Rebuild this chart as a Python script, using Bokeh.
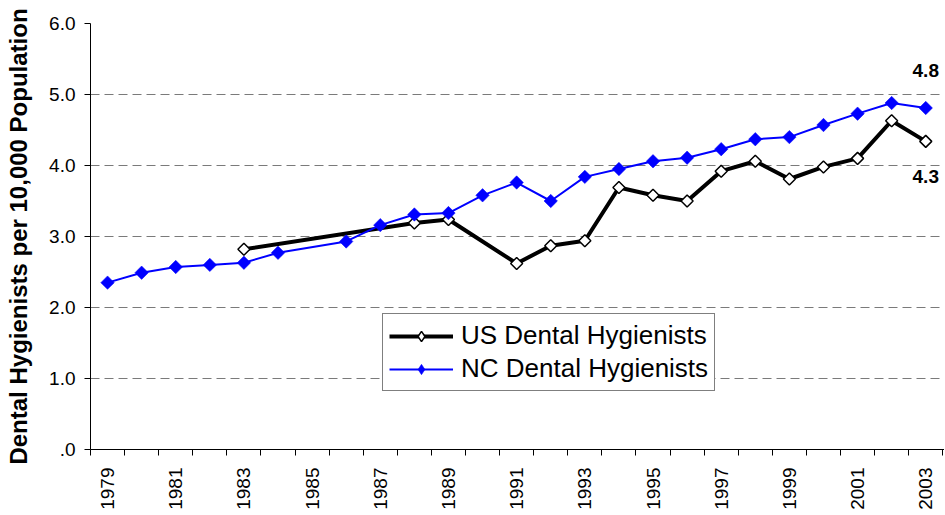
import math
from bokeh.plotting import figure
from bokeh.models import Range1d, FixedTicker, Legend, LegendItem
from bokeh.core.properties import value
from bokeh.embed import file_html
from bokeh.resources import INLINE

# ---- data ----
us_years = [1983, 1988, 1989, 1991, 1992, 1993, 1994, 1995, 1996, 1997,
            1998, 1999, 2000, 2001, 2002, 2003]
us_values = [2.82, 3.19, 3.24, 2.62, 2.87, 2.94, 3.69, 3.58, 3.50, 3.92,
             4.06, 3.81, 3.98, 4.10, 4.63, 4.34]

nc_years = [1979, 1980, 1981, 1982, 1983, 1984, 1986, 1987, 1988, 1989,
            1990, 1991, 1992, 1993, 1994, 1995, 1996, 1997, 1998, 1999,
            2000, 2001, 2002, 2003]
nc_values = [2.35, 2.49, 2.57, 2.60, 2.63, 2.77, 2.93, 3.16, 3.31, 3.33,
             3.58, 3.76, 3.50, 3.84, 3.95, 4.06, 4.11, 4.23, 4.37, 4.40,
             4.57, 4.73, 4.88, 4.81]

all_years = list(range(1979, 2004))
x_tick_years = [1979, 1981, 1983, 1985, 1987, 1989, 1991, 1993, 1995,
                1997, 1999, 2001, 2003]
x_tick_labels = [str(y) for y in x_tick_years]
y_ticks = [0, 1, 2, 3, 4, 5, 6]
y_tick_labels = [".0", "1.0", "2.0", "3.0", "4.0", "5.0", "6.0"]

series_names = ["US Dental Hygienists", "NC Dental Hygienists"]
y_title = "Dental Hygienists per 10,000 Population"

FONT = "Liberation Sans"

p = figure(width=944, height=514, output_backend="svg", toolbar_location=None,
           x_range=Range1d(all_years[0] - 0.5, all_years[-1] + 0.55),
           y_range=Range1d(0, 6),
           min_border_left=90, min_border_right=0, min_border_top=23,
           min_border_bottom=65)
p.outline_line_color = None
p.background_fill_color = "white"
p.border_fill_color = "white"

# x axis (category style: labels at centres, ticks at boundaries)
xt = FixedTicker(ticks=x_tick_years,
                 minor_ticks=[y - 0.5 for y in all_years] + [all_years[-1] + 0.5])
p.xaxis.ticker = xt
p.xaxis.major_label_overrides = {y: l for y, l in zip(x_tick_years, x_tick_labels)}
p.xaxis.major_tick_out = 0
p.xaxis.major_tick_in = 0
p.xaxis.minor_tick_out = 6
p.xaxis.minor_tick_in = 0
p.xaxis.minor_tick_line_color = "black"
p.xaxis.major_label_orientation = math.pi / 2
p.xaxis.major_label_standoff = 12
p.xaxis.major_label_text_font = FONT
p.xaxis.major_label_text_font_size = "19px"
p.xaxis.major_label_text_color = "black"
p.xaxis.axis_line_color = "black"
p.xgrid.visible = False

# y axis
p.yaxis.ticker = FixedTicker(ticks=y_ticks, minor_ticks=[])
p.yaxis.major_label_overrides = {t: l for t, l in zip(y_ticks, y_tick_labels)}
p.yaxis.major_tick_out = 6
p.yaxis.major_tick_in = 0
p.yaxis.major_tick_line_color = "black"
p.yaxis.major_label_standoff = 9
p.yaxis.major_label_text_font = FONT
p.yaxis.major_label_text_font_size = "19px"
p.yaxis.major_label_text_color = "black"
p.yaxis.axis_line_color = "black"
p.yaxis.axis_label = y_title
p.yaxis.axis_label_text_font = FONT
p.yaxis.axis_label_text_font_style = "bold"
p.yaxis.axis_label_text_font_size = "24px"
p.yaxis.axis_label_text_color = "black"
p.yaxis.axis_label_standoff = 14
p.ygrid.grid_line_color = "#7a7a7a"
p.ygrid.grid_line_dash = "9 5"
p.ygrid.grid_line_width = 1.2

# US series
us_line = p.line(us_years, us_values, line_color="black", line_width=4)
p.scatter(us_years, us_values, marker="square", angle=math.pi / 4, size=8.5,
          fill_color="white", line_color="black", line_width=1.5)
us_leg = p.scatter(us_years, us_values, marker="diamond", size=13,
                   fill_color="white", line_color="black", line_width=1.5,
                   visible=False)

# NC series
nc_line = p.line(nc_years, nc_values, line_color="#0000FF", line_width=2)
p.scatter(nc_years, nc_values, marker="square", angle=math.pi / 4, size=9.5,
          fill_color="#0000FF", line_color="#0000FF", line_width=0.5)
nc_leg = p.scatter(nc_years, nc_values, marker="diamond", size=14,
                   fill_color="#0000FF", line_color="#0000FF", line_width=0.5,
                   visible=False)

# end labels
p.text([nc_years[-1]], [nc_values[-1]], text=[f"{nc_values[-1]:.1f}"],
       text_font=value(FONT), text_font_style="bold", text_font_size="19px",
       text_align="center", text_baseline="middle", y_offset=-37,
       text_color="black")
p.text([us_years[-1]], [us_values[-1]], text=[f"{us_values[-1]:.1f}"],
       text_font=value(FONT), text_font_style="bold", text_font_size="19px",
       text_align="center", text_baseline="middle", y_offset=35,
       text_color="black")

lg = Legend(items=[LegendItem(label=series_names[0], renderers=[us_line, us_leg]),
                   LegendItem(label=series_names[1], renderers=[nc_line, nc_leg])])
lg.location = (292, 58)
lg.border_line_color = "black"
lg.border_line_width = 1
lg.background_fill_color = "white"
lg.background_fill_alpha = 1
lg.inactive_fill_alpha = 0
lg.label_text_font = FONT
lg.label_text_font_size = "26px"
lg.label_text_color = "black"
lg.glyph_width = 64
lg.glyph_height = 26
lg.label_height = 26
lg.label_standoff = 8
lg.spacing = 2
lg.padding = 6
lg.margin = 0
p.add_layout(lg, "center")

open("out.html", "w").write(file_html(p, INLINE))
